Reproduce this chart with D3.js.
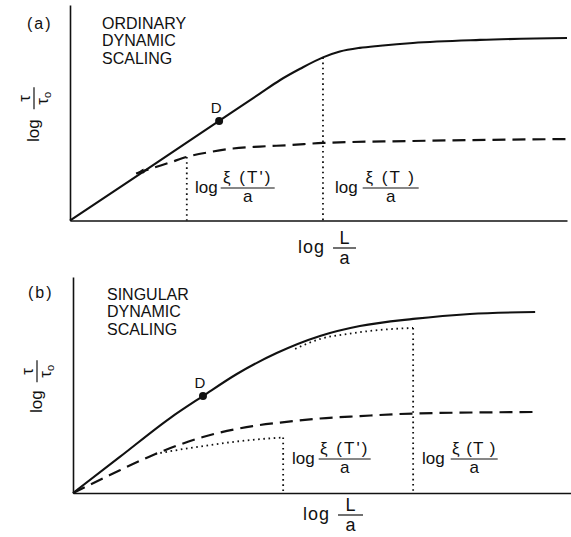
<!DOCTYPE html>
<html><head><meta charset="utf-8">
<script src="https://cdn.jsdelivr.net/npm/d3@7"></script>
<style>
body{margin:0;background:#fff}
svg{display:block}
text{font-family:"Liberation Sans",Arial,sans-serif;fill:#111}
</style>
</head><body>
<svg id="c" width="571" height="537"></svg>
<script>
// ---------- data (schematic units 0..100 on each axis) ----------
const solidA  = [[0,0],[14.1,21.6],[30.0,46.2],[38.2,58.9],[42.3,65.2],[46.3,70.4],[50.9,75.7],[54.3,78.4],[58.3,80.1],[62.4,81.1],[69.0,82.4],[82.5,83.8],[100,84.7]];
const dashedA = [[13.3,21.8],[16.7,24.4],[20.1,26.9],[23.5,29.5],[28.2,31.8],[32.8,33.4],[38.2,34.3],[44.3,35.0],[50.9,36.0],[69.0,36.9],[100,37.8]];
const dropsA  = [[23.5,29.5],[50.9,75.7]];
const pointDA = [30.0,46.2];

const solidB      = [[0,0],[9.4,16.7],[19.5,34.7],[26.1,44.9],[32.9,55.1],[40.9,64.8],[49.6,72.7],[57.6,77.3],[68.3,80.6],[79.7,82.9],[92.8,83.8]];
const dashedB     = [[0,0],[7.4,8.3],[16.1,17.6],[26.1,25.9],[36.1,31.0],[41.6,32.6],[49.6,34.5],[57.6,35.6],[68.3,36.8],[92.4,37.5]];
const dottedLowB  = [[16.5,18.1],[21.5,20.1],[27.5,22.2],[35.5,24.5],[42.2,25.7]];
const dottedHighB = [[44.6,66.7],[49.6,71.3],[55.6,73.8],[61.6,75.5],[68.3,76.4]];
const dropsB      = [[42.2,25.7],[68.3,76.4]];
const pointDB     = [26.1,44.9];

const panelTags = ["(a)","(b)"];
const titleA = ["ORDINARY","DYNAMIC","SCALING"];
const titleB = ["SINGULAR","DYNAMIC","SCALING"];
const pointLabel = "D";
const xiPrimeNum = "ξ (T')";
const xiNum = "ξ (T )";

// ---------- drawing ----------
const svg = d3.select("#c");
const ink = "#111";

svg.append("defs").append("marker")
  .attr("id","wedge").attr("viewBox","0 0 10 6")
  .attr("refX",10).attr("refY",3)
  .attr("markerUnits","userSpaceOnUse")
  .attr("markerWidth",9).attr("markerHeight",5)
  .attr("orient","auto-start-reverse")
  .append("path").attr("d","M0,0L10,3L0,6Z").attr("fill",ink);

function fracLabel(parent, x, y, num, den, o={}) {
  const size = o.size || 17, gap = o.gap || 4;
  const g = parent.append("g")
    .attr("transform", `translate(${x},${y})` + (o.rot ? " rotate(-90)" : ""))
    .style("font-size", size + "px");
  const lg = g.append("text").attr("x",0).attr("y",5).attr("letter-spacing", o.ls || 0).text("log");
  const lw = lg.node().getComputedTextLength() + (o.ls || 0) * 3;
  const bx = lw + gap, bw = o.bar;
  g.append("line").attr("x1",bx).attr("x2",bx+bw).attr("y1",0).attr("y2",0)
    .attr("stroke",ink).attr("stroke-width",1.2);
  const cx = bx + bw/2;
  g.append("text").attr("x",cx).attr("y",o.numY || -5).attr("text-anchor","middle")
    .attr("letter-spacing", o.numLs || 0).text(num);
  const dt = g.append("text").attr("x",cx).attr("y",o.denY || 14).attr("text-anchor","middle");
  if (Array.isArray(den)) {
    dt.append("tspan").text(den[0]);
    dt.append("tspan").attr("dy",3).style("font-size",(size*0.65)+"px").text(den[1]);
  } else dt.text(den);
}

function panel(cfg) {
  const {x, y, solid, dashed, dotted, drops, pd} = cfg;
  const g = svg.append("g");
  g.append("g").attr("transform",`translate(0,${y(0)})`)
    .call(d3.axisBottom(x).tickValues([]).tickSizeOuter(0))
    .call(s => s.select(".domain").attr("stroke",ink).attr("stroke-width",1.6));
  g.append("g").attr("transform",`translate(${x(0)},0)`)
    .call(d3.axisLeft(y).tickValues([]).tickSizeOuter(0))
    .call(s => s.select(".domain").attr("stroke",ink).attr("stroke-width",1.6));

  const line = d3.line().x(d => x(d[0])).y(d => y(d[1])).curve(d3.curveMonotoneX);

  dotted.forEach(dd => g.append("path").attr("d", line(dd)).attr("fill","none")
    .attr("stroke",ink).attr("stroke-width",1.8).attr("stroke-dasharray","1.6,3.6"));
  g.selectAll(null).data(drops).join("line")
    .attr("x1",d=>x(d[0])).attr("x2",d=>x(d[0]))
    .attr("y1",d=>y(d[1])).attr("y2",y(0))
    .attr("stroke",ink).attr("stroke-width",1.8).attr("stroke-dasharray","1.6,3.6");
  const dp = g.append("path").attr("d", line(dashed)).attr("fill","none")
    .attr("stroke",ink).attr("stroke-width",2.2).attr("stroke-dasharray","13,7");
  if (cfg.wedge) dp.attr("marker-start","url(#wedge)");
  g.append("path").attr("d", line(solid)).attr("fill","none")
    .attr("stroke",ink).attr("stroke-width",2.1);
  g.append("circle").attr("cx",x(pd[0])).attr("cy",y(pd[1])).attr("r",4).attr("fill",ink);
  g.append("text").attr("x",x(pd[0])-3).attr("y",y(pd[1])-8).attr("text-anchor","middle")
    .style("font-size","15px").text(pointLabel);
  g.append("text").attr("x",cfg.tag[0]).attr("y",cfg.tag[1]).style("font-size","16px")
    .attr("letter-spacing",2).text(cfg.tagText);
  g.append("g").selectAll("text").data(cfg.title).join("text")
    .attr("x",cfg.titlePos[0]).attr("y",(d,i)=>cfg.titlePos[1]+i*17.3)
    .style("font-size","16px").text(d=>d);
  return g;
}

// panel (a)
const xA = d3.scaleLinear([0,100],[70,567]);
const yA = d3.scaleLinear([0,100],[220.5,5]);
const gA = panel({x:xA, y:yA, solid:solidA, dashed:dashedA, dotted:[], drops:dropsA, pd:pointDA,
  wedge:true, tag:[27,29], tagText:panelTags[0], title:titleA, titlePos:[102,29]});
fracLabel(gA, 195, 188, xiPrimeNum, "a", {bar:54, gap:3, numLs:2});
fracLabel(gA, 335, 188, xiNum, "a", {bar:56, gap:5, numLs:2});
fracLabel(gA, 298, 248, "L", "a", {bar:23, gap:5, size:18, numY:-4, denY:16, ls:1});
fracLabel(gA, 34, 142, "τ", ["τ","o"], {bar:22, gap:10, rot:true, size:17, numY:-4});

// panel (b)
const xB = d3.scaleLinear([0,100],[73,571]);
const yB = d3.scaleLinear([0,100],[493,277]);
const gB = panel({x:xB, y:yB, solid:solidB, dashed:dashedB, dotted:[dottedLowB, dottedHighB], drops:dropsB, pd:pointDB,
  wedge:false, tag:[28,298], tagText:panelTags[1], title:titleB, titlePos:[107,300]});
fracLabel(gB, 292, 459, xiPrimeNum, "a", {bar:52, gap:4, numLs:2});
fracLabel(gB, 422, 459, xiNum, "a", {bar:47, gap:6, numLs:1});
fracLabel(gB, 303, 515, "L", "a", {bar:25, gap:5, size:18, numY:-4, denY:16, ls:1});
fracLabel(gB, 37, 413, "τ", ["τ","o"], {bar:22, gap:8, rot:true, size:17, numY:-4});
</script>
</body></html>
